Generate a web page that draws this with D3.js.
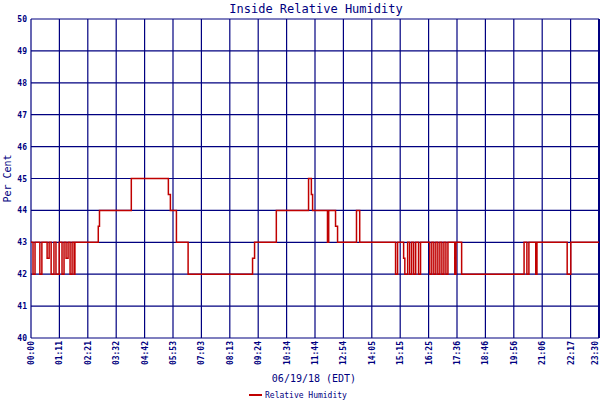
<!DOCTYPE html>
<html><head><meta charset="utf-8">
<script src="https://cdn.jsdelivr.net/npm/d3@7"></script>
<style>body{margin:0;background:#fff}</style>
</head><body>
<div id="chart"></div>
<script>
// change points: minute of day, humidity value
const minutes = [0,5,10,22,27,40,45,50,57,62,70,77,82,87,92,97,102,107,109,167,170,249,341,346,361,390,550,555,609,689,696,699,736,739,756,761,808,816,
  905,910,925,928,935,940,945,950,955,962,967,990,995,1000,1005,1010,1015,1020,1025,1030,1035,1052,1055,1069,1224,1231,1236,1253,1256,1331,1340,1410];
const humidity = [43,42,43,42,43,42.5,43,42,43,42,43,42,43,42.5,43,42,43,42,43,43.5,44,45,44.5,44,43,42,42.5,43,44,45,44.5,44,43,44,43.5,43,44,43,
  42,43,42.5,42,43,42,43,42,43,42,43,42,43,42,43,42,43,42,43,42,43,42,43,42,43,42,43,42,43,42,43,43];
const tickLabels = ["00:00","01:11","02:21","03:32","04:42","05:53","07:03","08:13","09:24","10:34","11:44","12:54","14:05","15:15","16:25","17:36","18:46","19:56","21:06","22:17","23:30"];
const yTicks = [40,41,42,43,44,45,46,47,48,49,50];

const width = 600, height = 400;
const margin = {left:31, right:1, top:19, bottom:62};
const navy = "#000080";

const svg = d3.select("#chart").append("svg")
  .attr("width", width).attr("height", height)
  .style("font-family", "DejaVu Sans Mono, monospace");

const x = d3.scaleLinear().domain([0, 1410]).range([margin.left, width - margin.right]);
const y = d3.scaleLinear().domain([40, 50]).range([height - margin.bottom, margin.top]);

const tickVals = tickLabels.map((d, i) => i * 70.5);

// grid
svg.append("g").selectAll("line.v").data(tickVals).enter().append("line")
  .attr("x1", d => x(d)).attr("x2", d => x(d))
  .attr("y1", y(50)).attr("y2", y(40))
  .attr("stroke", navy).attr("stroke-width", 1.2);
svg.append("g").selectAll("line.h").data(yTicks).enter().append("line")
  .attr("x1", x(0)).attr("x2", x(1410))
  .attr("y1", d => y(d)).attr("y2", d => y(d))
  .attr("stroke", navy).attr("stroke-width", 1.2);
svg.append("line").attr("x1", x(1410)).attr("x2", x(1410)).attr("y1", y(50)).attr("y2", y(40))
  .attr("stroke", navy).attr("stroke-width", 2);

// y labels
svg.append("g").selectAll("text").data(yTicks).enter().append("text")
  .attr("x", margin.left - 4).attr("y", d => y(d) + 3)
  .attr("text-anchor", "end").attr("font-size", 8).attr("font-weight", "bold")
  .attr("fill", navy).text(d => d);

// x labels
svg.append("g").selectAll("text").data(tickVals).enter().append("text")
  .attr("transform", (d, i) => `translate(${x(d) + (i === tickVals.length - 1 ? -1 : 3)},${y(40) + 3}) rotate(-90)`)
  .attr("text-anchor", "end").attr("font-size", 8).attr("font-weight", "bold")
  .attr("fill", navy).text((d, i) => tickLabels[i]);

// series
const pts = minutes.map((m, i) => [m, humidity[i]]);
const line = d3.line().x(d => x(d[0])).y(d => y(d[1])).curve(d3.curveStepAfter);
svg.append("path").datum(pts).attr("d", line)
  .attr("fill", "none").attr("stroke", "#c00000").attr("stroke-width", 1.5);

// titles
svg.append("text").attr("x", 316).attr("y", 13).attr("text-anchor", "middle")
  .attr("font-size", 12).attr("fill", navy).text("Inside Relative Humidity");
svg.append("text").attr("transform", `translate(11,${(y(40) + y(50)) / 2}) rotate(-90)`)
  .attr("text-anchor", "middle").attr("font-size", 10).attr("fill", navy).text("Per Cent");
svg.append("text").attr("x", 314).attr("y", 382).attr("text-anchor", "middle")
  .attr("font-size", 10).attr("fill", navy).text("06/19/18 (EDT)");

// legend
svg.append("line").attr("x1", 249).attr("x2", 262).attr("y1", 395).attr("y2", 395)
  .attr("stroke", "#c00000").attr("stroke-width", 2);
svg.append("text").attr("x", 265).attr("y", 398).attr("font-size", 8)
  .attr("fill", navy).text("Relative Humidity");
</script>
</body></html>
